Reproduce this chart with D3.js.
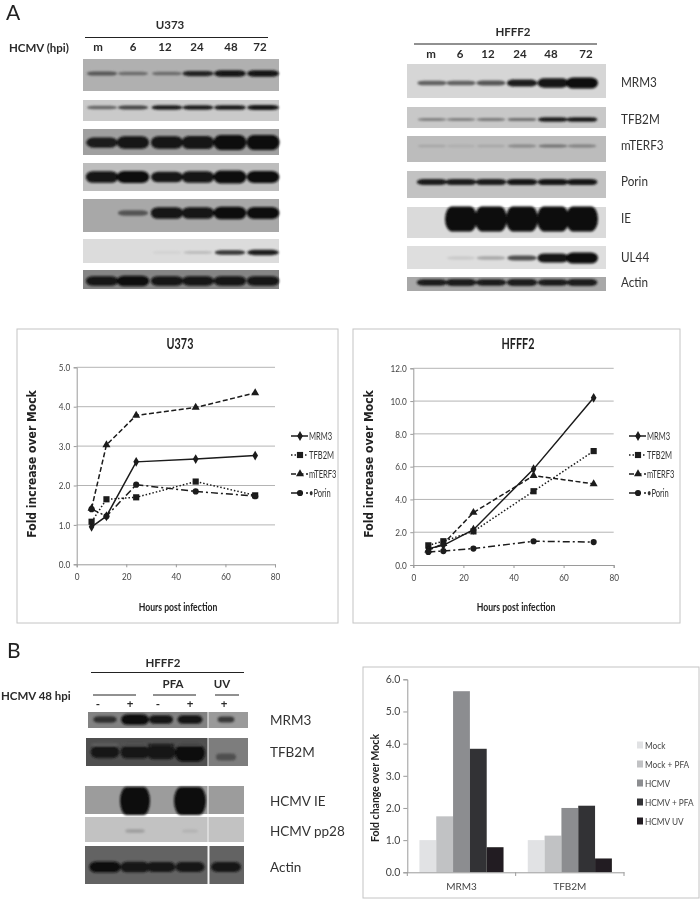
<!DOCTYPE html>
<html><head><meta charset="utf-8">
<script src="https://cdnjs.cloudflare.com/ajax/libs/d3/7.8.5/d3.min.js"></script>
<style>html,body{margin:0;padding:0;background:#fff}svg{display:block}</style>
</head><body><svg id="c" width="700" height="900"></svg>
<script>
// ---------- data ----------
const hours = [6, 12, 24, 48, 72];
const seriesNames = ["MRM3", "TFB2M", "mTERF3", "Porin"];
const u373MRM3 = [0.95, 1.22, 2.6, 2.67, 2.76];
const u373TFB2M = [1.08, 1.65, 1.7, 2.1, 1.75];
const u373mTERF3 = [1.42, 3.03, 3.78, 3.98, 4.35];
const u373Porin = [1.4, 1.22, 2.02, 1.85, 1.73];
const hfffMRM3 = [1.0, 1.2, 2.15, 5.85, 10.2];
const hfffTFB2M = [1.2, 1.45, 2.05, 4.5, 6.95];
const hfffmTERF3 = [0.9, 1.3, 3.2, 5.45, 4.95];
const hfffPorin = [0.8, 0.85, 1.0, 1.45, 1.4];

const barCategories = ["MRM3", "TFB2M"];
const barSeries = ["Mock", "Mock + PFA", "HCMV", "HCMV + PFA", "HCMV UV"];
const barMRM3 = [1.0, 1.74, 5.63, 3.84, 0.78];
const barTFB2M = [1.0, 1.14, 2.0, 2.07, 0.43];

const laneLabels = ["m", "6", "12", "24", "48", "72"];
const blotU373 = [
  [.3, .22, .22, .5, .72, .72],
  [.24, .36, .52, .52, .62, .68],
  [.62, .8, .8, .85, 1, 1],
  [.88, .92, .74, .88, .98, .9],
  [0, .3, .88, .88, .96, .92],
  [0, 0, .02, .06, .42, .62],
  [.85, .92, .85, .82, .85, .85]
];
const blotHFFF = [
  [.26, .26, .3, .55, .82, 1],
  [.16, .16, .18, .2, .52, .62],
  [.06, .04, .06, .14, .2, .16],
  [.62, .64, .64, .68, .68, .68],
  [0, 1, 1, 1, 1, 1],
  [0, .04, .1, .32, .78, 1],
  [.62, .66, .62, .66, .62, .66]
];
const blotNamesHFFF = ["MRM3", "TFB2M", "mTERF3", "Porin", "IE", "UL44", "Actin"];
const blotB = [
  [.45, .95, .7, .72, .4],
  [.68, .74, .82, 1, .32],
  [0, 1, 0, 1, 0],
  [0, .08, 0, .04, 0],
  [.9, .82, .8, .78, .78]
];
const blotBUpperTFB2M = [.14, .3, .5, .3, 0];
const blotNamesB = ["MRM3", "TFB2M", "HCMV IE", "HCMV pp28", "Actin"];
const signsB = ["-", "+", "-", "+", "+"];

// ---------- layout ----------
const sans = "Lato, 'Open Sans', sans-serif";
const svg = d3.select("#c");
const defs = svg.append("defs");
defs.append("filter").attr("id","bandBlur").attr("filterUnits","userSpaceOnUse").attr("x",0).attr("y",0).attr("width",700).attr("height",900)
  .append("feGaussianBlur").attr("stdDeviation",1);
defs.append("filter").attr("id","soft").attr("filterUnits","userSpaceOnUse").attr("x",0).attr("y",0).attr("width",700).attr("height",900)
  .append("feGaussianBlur").attr("stdDeviation",0.4);
const root = svg.append("g").attr("filter","url(#soft)");

function squeeze(sel,k){
  sel.each(function(){
    const len = this.getComputedTextLength();
    d3.select(this).attr("textLength",len*k).attr("lengthAdjust","spacingAndGlyphs");
  });
  return sel;
}
function text(g,x,y,s,o={}){
  const t = g.append("text").attr("x",x).attr("y",y).text(s)
    .attr("font-family",o.f||sans).attr("font-size",o.s||12).attr("font-weight",o.w||"normal")
    .attr("fill",o.c||"#2b2b2b").attr("text-anchor",o.a||"start");
  if(o.k) squeeze(t,o.k);
  return t;
}
function rule(g,x1,x2,y){g.append("line").attr("x1",x1).attr("x2",x2).attr("y1",y).attr("y2",y).attr("stroke","#222").attr("stroke-width",1);}

function blot(g,vals,row,lanes,laneW){
  g.append("rect").attr("x",row.x0).attr("y",row.y0).attr("width",row.x1-row.x0).attr("height",row.y1-row.y0).attr("fill",row.bg);
  if(row.bg2) g.append("rect").attr("x",row.split).attr("y",row.y0).attr("width",row.x1-row.split).attr("height",row.y1-row.y0).attr("fill",row.bg2);
  bands(g,vals,row,lanes,laneW);
}
function bands(g,vals,row,lanes,laneW){
  const shade = d3.scaleLinear().domain([0,.2,.5,1]).range([row.bg,"#707070","#202020","#0d0d0d"]).clamp(true);
  const h = d3.scaleLinear().domain([0,1]).range([2.5,row.maxH]);
  const b = g.append("g").attr("filter","url(#bandBlur)");
  vals.forEach((v,i)=>{
    if(v<=0) return;
    const w0 = Array.isArray(laneW)?laneW[i]:laneW;
    const w = w0*(.88+.12*v);
    const cy = row.cy+(row.off?row.off[i]:0);
    b.append("rect").attr("x",lanes[i]-w/2).attr("y",cy-h(v)/2).attr("width",w).attr("height",h(v))
      .attr("rx",w*.22).attr("ry",h(v)/2).attr("fill",shade(v));
  });
}

text(root,6,20,"A",{s:21,c:"#222"});
text(root,7,658,"B",{s:21,c:"#222"});

// U373 blots
const gU = root.append("g");
text(gU,170,29,"U373",{s:11.5,w:"bold",a:"middle"});
rule(gU,85,268,37.5);
text(gU,9,52,"HCMV (hpi)",{s:11.5,w:"bold"});
[98,133,165,197,231,260].forEach((x,i)=>text(gU,x,51,laneLabels[i],{s:11.5,w:"bold",a:"middle"}));
const rowsU = [
 {y0:59,y1:91,cy:73.5,bg:"#b0b0b0",maxH:8},
 {y0:100,y1:121,cy:107.5,bg:"#cacaca",maxH:6},
 {y0:129,y1:155,cy:142.5,bg:"#a0a0a0",maxH:15},
 {y0:163,y1:191,cy:177,bg:"#bdbdbd",maxH:13},
 {y0:199,y1:232,cy:213,bg:"#a8a8a8",maxH:13},
 {y0:239,y1:263,cy:252.5,bg:"#dcdcdc",maxH:7},
 {y0:270,y1:289,cy:281,bg:"#858585",maxH:11}
];
rowsU.forEach((r,i)=>blot(gU,blotU373[i],{...r,x0:83,x1:279},[102,133,167,198,230,263],33));

// HFFF2 blots
const gH = root.append("g");
text(gH,513,36,"HFFF2",{s:11.5,w:"bold",a:"middle"});
rule(gH,414,597,44);
[431,460,488,520,551,586].forEach((x,i)=>text(gH,x,58,laneLabels[i],{s:11.5,w:"bold",a:"middle"}));
const rowsH = [
 {y0:64,y1:98,cy:83,bg:"#d6d6d6",maxH:11},
 {y0:107,y1:128,cy:119.5,bg:"#c8c8c8",maxH:6},
 {y0:136,y1:162,cy:146,bg:"#bcbcbc",maxH:5},
 {y0:171,y1:198,cy:182,bg:"#c2c2c2",maxH:8},
 {y0:207,y1:238,cy:219,bg:"#dadada",maxH:25},
 {y0:246,y1:269,cy:258,bg:"#dedede",maxH:11},
 {y0:277,y1:291,cy:282.5,bg:"#a8a8a8",maxH:9}
];
rowsH.forEach((r,i)=>{
  blot(gH,blotHFFF[i],{...r,x0:407,x1:606},[432,461,491,522,553,582],32);
  text(gH,621,r.cy+4,blotNamesHFFF[i],{s:13,c:"#333",k:.9});
});

// Panel B blots
const gB = root.append("g");
text(gB,163,667,"HFFF2",{s:11.5,w:"bold",a:"middle"});
rule(gB,91,244,672.5);
text(gB,173,688,"PFA",{s:11.5,w:"bold",a:"middle"});
text(gB,222,688,"UV",{s:11.5,w:"bold",a:"middle"});
rule(gB,93,136,695);rule(gB,153,196,695);rule(gB,215,239,695);
text(gB,1,700,"HCMV 48 hpi",{s:11.5,w:"bold"});
[98,130,158,190,224].forEach((x,i)=>text(gB,x,708,signsB[i],{s:11.5,w:"bold",a:"middle"}));
const lanesB = [105,135,161,190,226];
const rowsB = [
 {x0:88,x1:248,y0:712,y1:728,cy:719.5,bg:"#828282",bg2:"#9a9a9a",split:208,maxH:11,w:[25,28,25,26,18]},
 {x0:86,x1:248,y0:738,y1:766,cy:752,bg:"#505050",bg2:"#7d7d7d",split:208,maxH:17,w:[30,30,30,30,22],off:[0,0,0,1,5]},
 {x0:85,x1:244,y0:786,y1:814,cy:801,bg:"#9c9c9c",bg2:"#9c9c9c",split:208,maxH:28,w:[1,30,1,32,1]},
 {x0:85,x1:244,y0:817,y1:842,cy:831,bg:"#c2c2c2",bg2:"#c2c2c2",split:208,maxH:20,w:[1,22,1,18,1]},
 {x0:85,x1:244,y0:846,y1:884,cy:867,bg:"#636363",bg2:"#636363",split:208,maxH:12,w:[32,30,30,30,31]}
];
rowsB.forEach((r,i)=>{
  blot(gB,blotB[i],r,lanesB,r.w);
  if(i===1) bands(gB,blotBUpperTFB2M,{...r,cy:745,off:null,maxH:3},lanesB,r.w);
  gB.append("rect").attr("x",207.5).attr("y",r.y0).attr("width",i===4?2:1).attr("height",r.y1-r.y0).attr("fill","#f4f4f4");
  text(gB,270,r.cy+5,blotNamesB[i],{s:13.5,c:"#333"});
});

// ---------- line charts ----------
const styles = [
 {dash:null,sym:d3.symbolDiamond,size:28},
 {dash:"1.5 2",sym:d3.symbolSquare,size:38},
 {dash:"5 2.5",sym:d3.symbolTriangle,size:28},
 {dash:"7 3 2 3",sym:d3.symbolCircle,size:30}
];
function styleAxis(a){
  a.selectAll("path,line").attr("stroke","#9a9a9a");
  squeeze(a.selectAll("text").attr("font-family",sans).attr("font-size",10).attr("fill","#444"),.82);
}
function lineChart(cfg){
  const g = root.append("g");
  g.append("rect").attr("x",cfg.frame[0]).attr("y",cfg.frame[1]).attr("width",cfg.frame[2]-cfg.frame[0]).attr("height",cfg.frame[3]-cfg.frame[1])
    .attr("fill","#fff").attr("stroke","#c4c4c4").attr("stroke-width",1);
  const x = d3.scaleLinear().domain([0,80]).range(cfg.xr);
  const y = d3.scaleLinear().domain([0,cfg.max]).range(cfg.yr);
  const ticks = d3.range(0,cfg.max+cfg.step/2,cfg.step);
  g.append("g").selectAll("line").data(ticks.slice(1)).join("line")
    .attr("x1",cfg.xr[0]).attr("x2",cfg.xr[1]).attr("y1",d=>y(d)).attr("y2",d=>y(d)).attr("stroke","#b4b4b4");
  styleAxis(g.append("g").attr("transform",`translate(${cfg.xr[0]},0)`).call(d3.axisLeft(y).tickValues(ticks).tickFormat(d3.format(".1f")).tickSize(3).tickPadding(3.5)));
  styleAxis(g.append("g").attr("transform",`translate(0,${cfg.yr[0]})`).call(d3.axisBottom(x).tickValues([0,20,40,60,80]).tickSize(3).tickPadding(6)));
  const line = d3.line().x((d,i)=>x(hours[i])).y(d=>y(d));
  cfg.series.forEach((vals,si)=>{
    const st = styles[si];
    g.append("path").datum(vals).attr("d",line).attr("fill","none").attr("stroke","#1a1a1a").attr("stroke-width",1.5)
      .attr("stroke-dasharray",st.dash);
    g.selectAll(null).data(vals).join("path").attr("d",d3.symbol(st.sym,st.size)())
      .attr("transform",(d,i)=>`translate(${x(hours[i])},${y(d)})`).attr("fill","#1a1a1a");
  });
  text(g,cfg.titleX,349,cfg.title,{s:15,w:"bold",a:"middle",c:"#222",k:.72});
  text(g,0,0,"Fold increase over Mock",{s:12,w:"bold",f:"'DejaVu Sans',sans-serif",a:"middle",c:"#222",k:.9})
    .attr("transform",`translate(${cfg.ytitleX},464) rotate(-90)`);
  text(g,cfg.xtitleX,611,"Hours post infection",{s:12,w:"bold",a:"middle",c:"#222",k:.72});
  seriesNames.forEach((n,i)=>{
    const ly = 436+i*19, st = styles[i];
    g.append("line").attr("x1",cfg.legX).attr("x2",cfg.legX+17).attr("y1",ly).attr("y2",ly).attr("stroke","#1a1a1a").attr("stroke-width",1.5).attr("stroke-dasharray",st.dash);
    g.append("path").attr("d",d3.symbol(st.sym,st.size)()).attr("transform",`translate(${cfg.legX+9},${ly})`).attr("fill","#1a1a1a");
    text(g,cfg.legX+18,ly+3.5,(i===3?"•":"")+n,{s:10.5,c:"#333",k:.72});
  });
}
lineChart({frame:[17,329,338,623],xr:[76.7,275],yr:[564.3,367.3],max:5,step:1,title:"U373",titleX:180,ytitleX:36,xtitleX:178,legX:291,
  series:[u373MRM3,u373TFB2M,u373mTERF3,u373Porin]});
lineChart({frame:[353,329,680,623],xr:[413.3,613.7],yr:[565,368.3],max:12,step:2,title:"HFFF2",titleX:518,ytitleX:373,xtitleX:516,legX:629,
  series:[hfffMRM3,hfffTFB2M,hfffmTERF3,hfffPorin]});

// ---------- bar chart ----------
const barColors = ["#e1e2e4","#c1c2c4","#8c8d90","#333335","#231f20"];
const gC = root.append("g");
gC.append("rect").attr("x",363).attr("y",667).attr("width",336).attr("height",231).attr("fill","#fff").attr("stroke","#c4c4c4");
const bx0 = d3.scaleBand().domain(barCategories).range([407.3,624]);
const bx1 = d3.scaleBand().domain(barSeries).range([0,bx0.bandwidth()]).paddingOuter(0.72);
const by = d3.scaleLinear().domain([0,6]).range([872.3,679.3]);
[barMRM3,barTFB2M].forEach((vals,ci)=>{
  gC.append("g").selectAll("rect").data(vals).join("rect")
    .attr("x",(d,i)=>bx0(barCategories[ci])+bx1(barSeries[i])).attr("y",d=>by(d))
    .attr("width",bx1.bandwidth()).attr("height",d=>by(0)-by(d)).attr("fill",(d,i)=>barColors[i]);
});
const ay = gC.append("g").attr("transform","translate(407.3,0)").call(d3.axisLeft(by).tickValues(d3.range(0,7)).tickFormat(d3.format(".1f")).tickSize(4).tickPadding(3));
ay.selectAll("path,line").attr("stroke","#9a9a9a");
ay.selectAll("text").attr("font-family",sans).attr("font-size",10.5).attr("fill","#444");
const ax = gC.append("g").attr("transform","translate(0,872.3)").call(d3.axisBottom(bx0).tickSize(0).tickPadding(11));
ax.selectAll("path").attr("stroke","#9a9a9a");
ax.selectAll("text").attr("font-family",sans).attr("font-size",10).attr("fill","#444");
gC.selectAll(null).data(d3.range(0,3)).join("line").attr("x1",d=>407.3+d*bx0.step()).attr("x2",d=>407.3+d*bx0.step()).attr("y1",872.3).attr("y2",876).attr("stroke","#9a9a9a");
text(gC,0,0,"Fold change over Mock",{s:10.5,w:"bold",a:"middle",c:"#222"})
  .attr("transform","translate(379,788) rotate(-90)");
barSeries.forEach((n,i)=>{
  const ly = 745+i*19;
  gC.append("rect").attr("x",637).attr("y",ly-3.5).attr("width",6).attr("height",7).attr("fill",barColors[i]);
  text(gC,645,ly+3.5,n,{s:9.2,c:"#444",k:.9});
});
</script></body></html>
